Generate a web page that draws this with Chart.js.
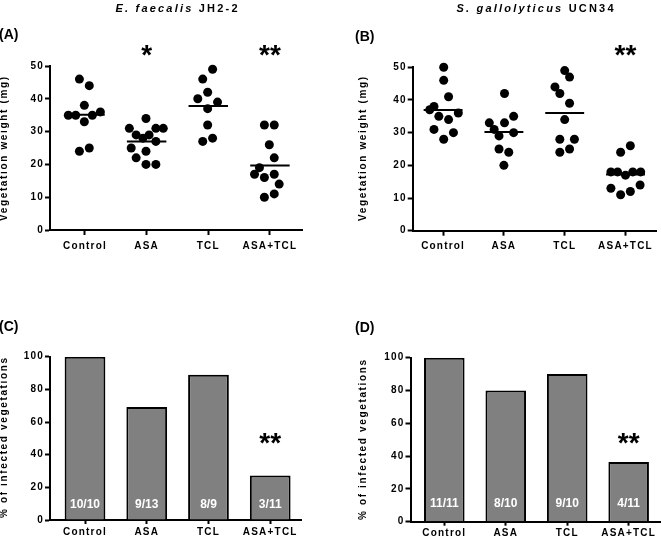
<!DOCTYPE html>
<html><head><meta charset="utf-8">
<script src="https://cdn.jsdelivr.net/npm/chart.js@4.4.1/dist/chart.umd.min.js"></script>
<style>
html,body{margin:0;padding:0;background:#fff;}
body{width:661px;height:540px;position:relative;overflow:hidden;font-family:"Liberation Sans",Arial,sans-serif;}
canvas{position:absolute;}
.t{position:absolute;font-weight:bold;color:#000;white-space:nowrap;line-height:1;}
.title{font-size:11px;letter-spacing:2.2px;padding-left:2.2px;transform:translate(-50%,-50%);}
.lett{font-size:14px;transform:translateY(-50%);}
.yt{font-size:10px;letter-spacing:1.65px;padding-left:1.65px;transform:translate(-50%,-50%) rotate(-90deg);}
</style></head>
<body>
<canvas id="cA" width="330" height="270" style="left:0;top:0"></canvas>
<canvas id="cB" width="331" height="270" style="left:330px;top:0"></canvas>
<canvas id="cC" width="330" height="270" style="left:0;top:270px"></canvas>
<canvas id="cD" width="331" height="270" style="left:330px;top:270px"></canvas>

<div class="t title" style="left:176.5px;top:7.5px"><i>E. faecalis</i> JH2-2</div>
<div class="t title" style="left:535px;top:7.5px"><i>S. gallolyticus</i> UCN34</div>
<div class="t lett" style="left:-1px;top:34px">(A)</div>
<div class="t lett" style="left:355px;top:36px">(B)</div>
<div class="t lett" style="left:-1px;top:326px">(C)</div>
<div class="t lett" style="left:355px;top:327px">(D)</div>
<div class="t yt" style="left:4px;top:149px">Vegetation weight (mg)</div>
<div class="t yt" style="left:363px;top:149px">Vegetation weight (mg)</div>
<div class="t yt" style="left:4px;top:438px">% of infected vegetations</div>
<div class="t yt" style="left:363px;top:440px">% of infected vegetations</div>

<script>
// ---------- data ----------
const categories = ['Control', 'ASA', 'TCL', 'ASA+TCL'];
const weightTicks = [0, 10, 20, 30, 40, 50];
const percentTicks = [0, 20, 40, 60, 80, 100];

// Panel A: E. faecalis JH2-2 vegetation weights (mg), per group
const weightA = [
  [46, 44, 38, 35, 35, 35, 36, 33, 24, 25],
  [34, 31, 31, 31, 29, 29, 28, 27, 25, 24, 22, 20, 20],
  [49, 46, 42, 40, 39, 37, 32, 27, 28],
  [32, 32, 26, 22, 19, 17, 16, 17, 14, 10, 11]
];
// horizontal scatter spread of each point (category units)
const jitterA = [
  [-0.09, 0.07, -0.01, -0.27, -0.15, 0.12, 0.25, -0.01, -0.09, 0.07],
  [-0.01, -0.28, 0.15, 0.27, -0.17, 0.04, -0.06, 0.15, -0.25, -0.01, -0.17, -0.01, 0.15],
  [0.07, -0.09, -0.01, -0.17, 0.15, -0.01, -0.01, -0.09, 0.07],
  [-0.09, 0.07, -0.01, 0.07, -0.17, -0.25, -0.09, 0.07, 0.15, -0.09, 0.07]
];

// Panel B: S. gallolyticus UCN34 vegetation weights (mg), per group
const weightB = [
  [50, 46, 41, 38, 37, 35, 34, 36, 31, 30, 28],
  [42, 33, 33, 35, 31, 29, 30, 25, 24, 20],
  [49, 47, 44, 42, 39, 34, 28, 28, 24, 25],
  [26, 24, 18, 18, 18, 18, 17, 13, 12, 14, 11]
];
const jitterB = [
  [0.01, 0.01, 0.09, -0.15, -0.22, -0.07, 0.09, 0.25, -0.15, 0.17, 0.01],
  [0.01, -0.24, 0.01, 0.16, -0.16, -0.08, 0.16, -0.08, 0.08, 0],
  [0, 0.08, -0.16, -0.08, 0.08, 0, -0.08, 0.16, -0.08, 0.08],
  [0.08, -0.08, -0.24, -0.13, 0.12, 0.25, 0, -0.24, 0.08, 0.24, -0.08]
];

// Panels C / D: infected vegetations / total
const infectedC = [10, 9, 8, 3];
const totalC = [10, 13, 9, 11];
const infectedD = [11, 8, 9, 4];
const totalD = [11, 10, 10, 11];

// ---------- helpers ----------
const FONT = '"Liberation Sans", Arial, sans-serif';
const tickFont = {family: FONT, size: 10, weight: 'bold'};

const spacingPlugin = {
  id: 'spacing',
  beforeDraw(c) { c.ctx.letterSpacing = '1.2px'; }
};

const annotPlugin = {
  id: 'annot',
  afterDatasetsDraw(c, args, opts) {
    const ctx = c.ctx;
    const xs = c.scales.x;
    ctx.save();
    ctx.letterSpacing = '0px';
    ctx.textAlign = 'center';
    ctx.textBaseline = 'alphabetic';
    (opts.labels || []).forEach((txt, i) => {
      ctx.font = 'bold 12px ' + FONT;
      ctx.fillStyle = '#fff';
      const m = ctx.measureText(txt);
      const cy = c.chartArea.bottom - opts.labelRise;
      ctx.fillText(txt, xs.getPixelForValue(i), cy + (m.actualBoundingBoxAscent - m.actualBoundingBoxDescent) / 2);
    });
    (opts.stars || []).forEach(s => {
      ctx.font = 'bold 28px ' + FONT;
      ctx.fillStyle = '#000';
      const m = ctx.measureText(s.text);
      ctx.fillText(s.text, xs.getPixelForValue(s.i), s.cy + (m.actualBoundingBoxAscent - m.actualBoundingBoxDescent) / 2);
    });
    ctx.restore();
  }
};

function xAxis(min, max, height, pad, tl) {
  return {
    type: 'linear', min, max, offset: false,
    afterBuildTicks: s => { s.ticks = categories.map((_, i) => ({value: i})); },
    afterFit: s => { s.height = height; },
    ticks: {callback: v => categories[v], color: '#000', font: tickFont, padding: pad,
            autoSkip: false, maxRotation: 0, minRotation: 0},
    grid: {display: true, offset: false, drawOnChartArea: false, drawTicks: true, tickLength: tl, tickWidth: 2, tickColor: '#000'},
    border: {display: true, color: '#000', width: 2}
  };
}
function yAxis(max, tickVals, width) {
  return {
    type: 'linear', min: 0, max,
    afterBuildTicks: s => { s.ticks = tickVals.map(v => ({value: v})); },
    afterFit: s => { s.width = width; },
    ticks: {color: '#000', font: tickFont, padding: 1},
    grid: {display: true, drawOnChartArea: false, drawTicks: true, tickLength: 5, tickWidth: 2, tickColor: '#000'},
    border: {display: true, color: '#000', width: 2}
  };
}
const mean = a => a.reduce((s, v) => s + v, 0) / a.length;

function scatterChart(id, weights, jitter, geo, stars) {
  const datasets = [];
  weights.forEach((vals, g) => {
    datasets.push({
      data: vals.map((v, k) => ({x: g + jitter[g][k], y: v})),
      pointRadius: 4.5, pointHoverRadius: 4.5, pointBackgroundColor: '#000', pointBorderWidth: 0,
      clip: false
    });
    const m = mean(vals);
    datasets.push({
      data: [{x: g - 0.32, y: m}, {x: g + 0.32, y: m}],
      showLine: true, borderColor: '#000', borderWidth: 2, pointRadius: 0, pointHoverRadius: 0,
      clip: false
    });
  });
  new Chart(document.getElementById(id), {
    type: 'scatter',
    data: {datasets},
    options: {
      responsive: false, animation: false, devicePixelRatio: 1,
      layout: {padding: {top: geo.top, right: geo.right, left: 0, bottom: 0}},
      scales: {x: xAxis(geo.xmin, geo.xmax, geo.xh, geo.pad, 5), y: yAxis(50, weightTicks, geo.yw)},
      plugins: {legend: {display: false}, tooltip: {enabled: false}, annot: {stars}}
    },
    plugins: [spacingPlugin, annotPlugin]
  });
}

function barChart(id, infected, total, geo, stars) {
  const pct = infected.map((v, i) => v / total[i] * 100);
  new Chart(document.getElementById(id), {
    type: 'bar',
    data: {datasets: [{
      data: pct.map((v, i) => ({x: i, y: v})),
      backgroundColor: '#808080', borderColor: '#000', borderWidth: 2,
      barPercentage: 0.66, categoryPercentage: 1
    }]},
    options: {
      responsive: false, animation: false, devicePixelRatio: 1,
      layout: {padding: {top: geo.top, right: geo.right, left: 0, bottom: 0}},
      scales: {x: xAxis(geo.xmin, geo.xmax, geo.xh, geo.pad, 4), y: yAxis(100, percentTicks, geo.yw)},
      plugins: {legend: {display: false}, tooltip: {enabled: false},
        annot: {stars, labels: infected.map((v, i) => v + '/' + total[i]), labelRise: geo.rise}}
    },
    plugins: [spacingPlugin, annotPlugin]
  });
}

scatterChart('cA', weightA, jitterA,
  {top: 66, right: 28, yw: 50, xh: 40, xmin: -0.567, xmax: 3.52, pad: 5},
  [{i: 1, text: '*', cy: 50}, {i: 3, text: '**', cy: 50}]);
scatterChart('cB', weightB, jitterB,
  {top: 67.3, right: 1, yw: 82.7, xh: 39.3, xmin: -0.5, xmax: 3.51, pad: 5},
  [{i: 3, text: '**', cy: 50}]);
barChart('cC', infectedC, totalC,
  {top: 86.7, right: 28.3, yw: 50, xh: 20, xmin: -0.567, xmax: 3.51, pad: 2, rise: 17},
  [{i: 3, text: '**', cy: 168}]);
barChart('cD', infectedD, totalD,
  {top: 87.7, right: 1, yw: 80.5, xh: 18.3, xmin: -0.55, xmax: 3.51, pad: 2, rise: 19},
  [{i: 3, text: '**', cy: 168}]);
</script>
</body></html>
